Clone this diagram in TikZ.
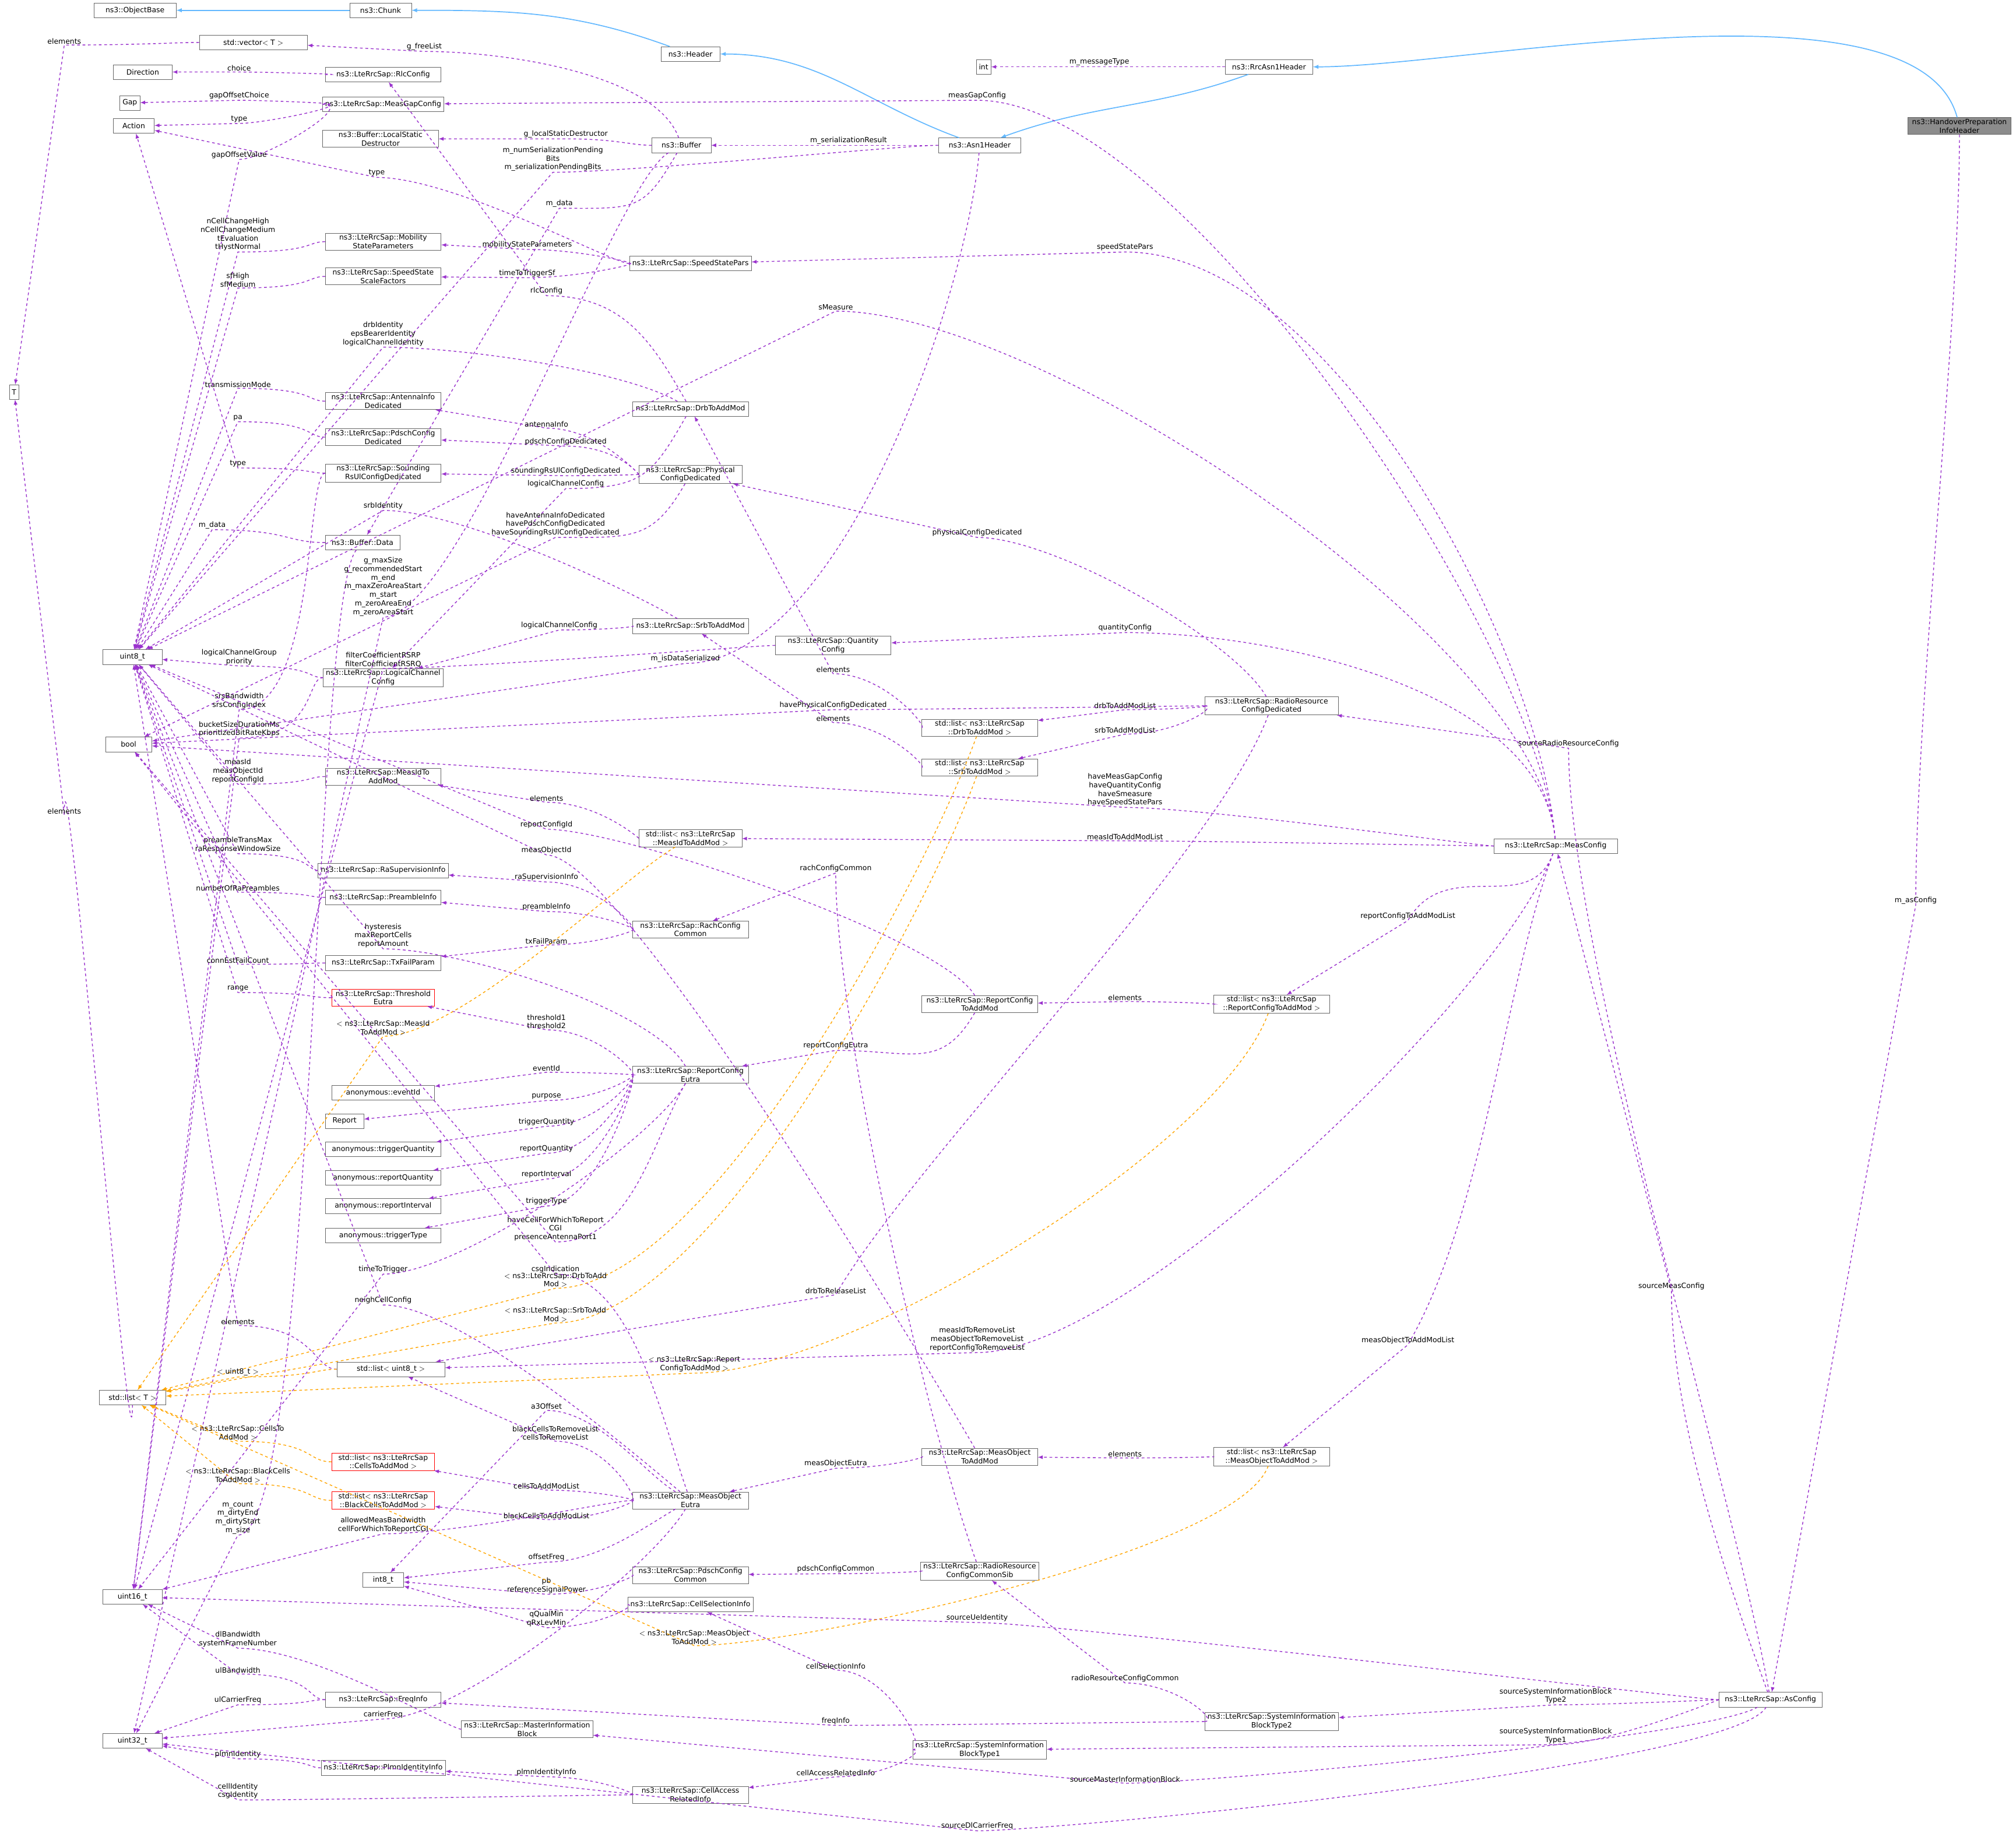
\documentclass[tikz,border=0pt]{standalone}
\usepackage{fontspec}
\setmainfont{DejaVu Sans}
\usetikzlibrary{calc}

\definecolor{memcol}{RGB}{154,50,205}
\definecolor{tplcol}{RGB}{255,165,0}
\definecolor{inhcol}{RGB}{99,184,255}

\tikzset{
  box/.style={draw=black!60,fill=white,align=center,inner xsep=3pt,inner ysep=1.5pt,minimum height=0.57cm,font=\fontsize{8}{9.5}\selectfont},
  colbox/.style={box,minimum width=4.5cm},
  typbox/.style={box,minimum width=2.3cm},
  redbox/.style={colbox,draw=red},
  grybox/.style={box,fill=black!45},
  member/.style={-latex,dashed,draw=memcol,line width=0.9pt},
  tmpl/.style={-latex,dashed,draw=tplcol,line width=0.9pt},
  inherit/.style={-latex,draw=inhcol,line width=1.1pt},
  lbl/.style={anchor=south,align=center,inner sep=1pt,font=\fontsize{8}{9.5}\selectfont},
  lout/.store in=\lkout, lin/.store in=\lkin, lreach/.store in=\lkreach,
  lout=180, lin=0, lreach=3cm
}
% container, member type, point on the line, label
\newcommand{\lnk}[5][]{
  \draw[member,#1] (#2) .. controls +(\lkout:\lkreach) and ($(#4)+(\lkin:\lkreach)$) .. (#4) -- (#3);
  \node[lbl] at (#4) {#5};
}

\begin{document}
\begin{tikzpicture}[x=0.05cm,y=-0.05cm]
\useasboundingbox (0,0) rectangle (1568,1434);

% base classes
\node[box,minimum width=3.2cm] (objbase) at (105,8) {ns3::ObjectBase};
\node[box,minimum width=2.4cm] (chunk) at (296,8) {ns3::Chunk};
\node[box,minimum width=2.3cm] (header) at (537,42) {ns3::Header};
\node[box,minimum width=3.2cm] (asn1) at (762,113) {ns3::Asn1Header};
\node[box,minimum width=3.4cm] (rrcasn1) at (987,52) {ns3::RrcAsn1Header};
\node[grybox,minimum width=4cm] (hopinfo) at (1524,98) {ns3::HandoverPreparation\\InfoHeader};

% plain types
\node[colbox,minimum width=4.2cm] (vectorT) at (197,33) {std::vector$<$ T $>$};
\node[box] (int) at (765,52) {int};
\node[typbox] (direction) at (111,56) {Direction};
\node[box] (gap) at (101,80) {Gap};
\node[box,minimum width=1.6cm] (action) at (104,98) {Action};
\node[box] (T) at (11,305) {T};
\node[typbox] (uint8) at (103,511) {uint8\_t};
\node[box,minimum width=1.8cm] (bool) at (100,579) {bool};
\node[box,minimum width=2.6cm] (listT) at (103,1087) {std::list$<$ T $>$};
\node[typbox] (uint16) at (103,1242) {uint16\_t};
\node[typbox] (uint32) at (103,1354) {uint32\_t};
\node[box,minimum width=1.6cm] (int8) at (298,1229) {int8\_t};

% second column
\node[colbox] (rlccfg) at (298,58) {ns3::LteRrcSap::RlcConfig};
\node[colbox] (measgap) at (298,81) {ns3::LteRrcSap::MeasGapConfig};
\node[colbox] (lsd) at (296,108) {ns3::Buffer::LocalStatic\\Destructor};
\node[colbox] (mobility) at (298,188) {ns3::LteRrcSap::Mobility\\StateParameters};
\node[colbox] (ssscale) at (298,215) {ns3::LteRrcSap::SpeedState\\ScaleFactors};
\node[colbox] (antenna) at (298,312) {ns3::LteRrcSap::AntennaInfo\\Dedicated};
\node[colbox] (pdschded) at (298,340) {ns3::LteRrcSap::PdschConfig\\Dedicated};
\node[colbox] (sounding) at (298,368) {ns3::LteRrcSap::Sounding\\RsUlConfigDedicated};
\node[box,minimum width=2.9cm] (bufdata) at (282,422) {ns3::Buffer::Data};
\node[colbox] (logch) at (298,527) {ns3::LteRrcSap::LogicalChannel\\Config};
\node[colbox] (measid) at (298,604) {ns3::LteRrcSap::MeasIdTo\\AddMod};
\node[colbox] (rasup) at (298,677) {ns3::LteRrcSap::RaSupervisionInfo};
\node[colbox] (preamble) at (298,698) {ns3::LteRrcSap::PreambleInfo};
\node[colbox] (txfail) at (298,749) {ns3::LteRrcSap::TxFailParam};
\node[redbox,minimum width=4cm] (thresh) at (298,776) {ns3::LteRrcSap::Threshold\\Eutra};
\node[colbox,minimum width=4cm] (evid) at (298,850) {anonymous::eventId};
\node[box,minimum width=1.5cm] (report) at (268,872) {Report};
\node[colbox] (trigq) at (298,894) {anonymous::triggerQuantity};
\node[colbox] (repq) at (298,916) {anonymous::reportQuantity};
\node[colbox] (repint) at (298,938) {anonymous::reportInterval};
\node[colbox] (trigt) at (298,961) {anonymous::triggerType};
\node[colbox,minimum width=4.2cm] (listu8) at (304,1065) {std::list$<$ uint8\_t $>$};
\node[redbox,minimum width=4cm] (listcells) at (298,1137) {std::list$<$ ns3::LteRrcSap\\::CellsToAddMod $>$};
\node[redbox,minimum width=4cm] (listblack) at (298,1167) {std::list$<$ ns3::LteRrcSap\\::BlackCellsToAddMod $>$};
\node[colbox] (freqinfo) at (298,1322) {ns3::LteRrcSap::FreqInfo};
\node[colbox,minimum width=5cm] (mib) at (410,1345) {ns3::LteRrcSap::MasterInformation\\Block};
\node[colbox] (plmn) at (298,1375) {ns3::LteRrcSap::PlmnIdentityInfo};

% third column
\node[box,minimum width=2.3cm] (buffer) at (530,113) {ns3::Buffer};
\node[colbox] (speed) at (537,205) {ns3::LteRrcSap::SpeedStatePars};
\node[colbox] (drb) at (537,318) {ns3::LteRrcSap::DrbToAddMod};
\node[box,minimum width=4cm] (phys) at (537,369) {ns3::LteRrcSap::Physical\\ConfigDedicated};
\node[colbox] (srb) at (537,487) {ns3::LteRrcSap::SrbToAddMod};
\node[colbox] (quant) at (648,502) {ns3::LteRrcSap::Quantity\\Config};
\node[box,minimum width=4cm] (listmeasid) at (537,652) {std::list$<$ ns3::LteRrcSap\\::MeasIdToAddMod $>$};
\node[colbox] (rach) at (537,723) {ns3::LteRrcSap::RachConfig\\Common};
\node[colbox] (repeutra) at (537,836) {ns3::LteRrcSap::ReportConfig\\Eutra};
\node[colbox] (moeutra) at (537,1167) {ns3::LteRrcSap::MeasObject\\Eutra};
\node[colbox] (pdschcom) at (537,1225) {ns3::LteRrcSap::PdschConfig\\Common};
\node[colbox] (cellsel) at (537,1248) {ns3::LteRrcSap::CellSelectionInfo};
\node[colbox] (cellacc) at (537,1396) {ns3::LteRrcSap::CellAccess\\RelatedInfo};

% fourth column
\node[colbox] (listdrb) at (762,566) {std::list$<$ ns3::LteRrcSap\\::DrbToAddMod $>$};
\node[colbox] (listsrb) at (762,597) {std::list$<$ ns3::LteRrcSap\\::SrbToAddMod $>$};
\node[colbox] (repadd) at (762,781) {ns3::LteRrcSap::ReportConfig\\ToAddMod};
\node[colbox] (moadd) at (762,1133) {ns3::LteRrcSap::MeasObject\\ToAddMod};
\node[colbox] (rrcsib) at (762,1222) {ns3::LteRrcSap::RadioResource\\ConfigCommonSib};
\node[colbox,minimum width=5.2cm] (sib1) at (762,1361) {ns3::LteRrcSap::SystemInformation\\BlockType1};

% fifth column
\node[colbox,minimum width=5.2cm] (rrcded) at (989,549) {ns3::LteRrcSap::RadioResource\\ConfigDedicated};
\node[colbox] (listrep) at (989,781) {std::list$<$ ns3::LteRrcSap\\::ReportConfigToAddMod $>$};
\node[colbox] (listmo) at (989,1133) {std::list$<$ ns3::LteRrcSap\\::MeasObjectToAddMod $>$};
\node[colbox,minimum width=5.2cm] (sib2) at (989,1339) {ns3::LteRrcSap::SystemInformation\\BlockType2};
\node[colbox,minimum width=4.8cm] (meascfg) at (1210,658) {ns3::LteRrcSap::MeasConfig};
\node[colbox,minimum width=4cm] (ascfg) at (1377,1322) {ns3::LteRrcSap::AsConfig};

% inheritance
\draw[inherit] (chunk) -- (objbase);
\draw[inherit] (header) to[out=160,in=0] (chunk);
\draw[inherit] (asn1) to[out=160,in=0] (header);
\draw[inherit] (rrcasn1) to[out=200,in=20] (asn1);
\draw[inherit] (hopinfo) to[out=105,in=0,looseness=0.6] (rrcasn1);

% members
\lnk{vectorT}{T}{50,35}{elements}
\lnk[lreach=1cm]{rlccfg}{direction}{186,56}{choice}
\lnk[lreach=1cm]{measgap}{gap}{186,78}{gapOffsetChoice}
\lnk[lreach=1cm]{measgap}{action}{186,96}{type}
\lnk[lreach=2cm]{buffer}{lsd}{440,108}{g\_localStaticDestructor}
\lnk[lout=110]{buffer}{vectorT}{330,40}{g\_freeList}
\lnk[lreach=2cm]{asn1}{buffer}{660,113}{m\_serializationResult}
\lnk[lreach=2cm]{rrcasn1}{int}{855,52}{m\_messageType}
\lnk[lout=95,lreach=8cm]{meascfg}{measgap}{760,78}{measGapConfig}
\lnk{asn1}{uint8}{430,134}{m\_numSerializationPending\\Bits\\m\_serializationPendingBits}
\lnk[lout=240]{buffer}{bufdata}{435,162}{m\_data}
\lnk{speed}{action}{293,138}{type}
\lnk[lreach=1cm]{measgap}{uint8}{186,124}{gapOffsetValue}
\lnk{mobility}{uint8}{185,196}{nCellChangeHigh\\nCellChangeMedium\\tEvaluation\\tHystNormal}
\lnk[lreach=2cm]{speed}{mobility}{410,194}{mobilityStateParameters}
\lnk[lreach=2cm]{speed}{ssscale}{410,216}{timeToTriggerSf}
\lnk{ssscale}{uint8}{185,224}{sfHigh\\sfMedium}
\lnk[lout=95,lreach=8cm]{meascfg}{speed}{875,196}{speedStatePars}
\lnk[lout=120]{drb}{rlccfg}{425,230}{rlcConfig}
\lnk[lout=95,lreach=8cm]{meascfg}{uint8}{650,242}{sMeasure}
\lnk[lout=150]{drb}{uint8}{298,270}{drbIdentity\\epsBearerIdentity\\logicalChannelIdentity}
\lnk{antenna}{uint8}{185,302}{transmissionMode}
\lnk[lreach=2cm]{phys}{antenna}{425,333}{antennaInfo}
\lnk{pdschded}{uint8}{185,328}{pa}
\lnk[lreach=2cm]{phys}{pdschded}{440,347}{pdschConfigDedicated}
\lnk[lreach=2cm]{phys}{sounding}{440,370}{soundingRsUlConfigDedicated}
\lnk[lout=240]{drb}{logch}{440,380}{logicalChannelConfig}
\lnk{sounding}{action}{185,364}{type}
\lnk[lout=150]{srb}{uint8}{298,397}{srbIdentity}
\lnk[lout=240]{phys}{bool}{432,418}{haveAntennaInfoDedicated\\havePdschConfigDedicated\\haveSoundingRsUlConfigDedicated}
\lnk{bufdata}{uint8}{165,412}{m\_data}
\lnk[lout=230]{bufdata}{uint32}{185,1194}{m\_count\\m\_dirtyEnd\\m\_dirtyStart\\m\_size}
\lnk[lout=210]{buffer}{uint32}{298,480}{g\_maxSize\\g\_recommendedStart\\m\_end\\m\_maxZeroAreaStart\\m\_start\\m\_zeroAreaEnd\\m\_zeroAreaStart}
\lnk[lreach=2cm]{srb}{logch}{435,490}{logicalChannelConfig}
\lnk{quant}{uint16}{298,520}{filterCoefficientRSRP\\filterCoefficientRSRQ}
\lnk[lout=265,lreach=6cm]{asn1}{bool}{533,516}{m\_isDataSerialized}
\lnk[lout=95,lreach=6cm]{meascfg}{quant}{875,492}{quantityConfig}
\lnk[lout=120]{rrcded}{phys}{760,418}{physicalConfigDedicated}
\lnk{logch}{uint8}{186,518}{logicalChannelGroup\\priority}
\lnk{logch}{uint16}{186,574}{bucketSizeDurationMs\\prioritizedBitRateKbps}
\lnk{sounding}{uint16}{186,552}{srsBandwidth\\srsConfigIndex}
\lnk[lreach=2cm]{listdrb}{drb}{648,524}{elements}
\lnk[lreach=2cm]{rrcded}{listdrb}{875,552}{drbToAddModList}
\lnk{rrcded}{bool}{648,552}{havePhysicalConfigDedicated}
\lnk[lreach=2cm]{rrcded}{listsrb}{875,571}{srbToAddModList}
\lnk[lreach=2cm]{listsrb}{srb}{648,562}{elements}
\lnk{measid}{uint8}{185,610}{measId\\measObjectId\\reportConfigId}
\lnk[lreach=2cm]{listmeasid}{measid}{425,624}{elements}
\lnk{meascfg}{bool}{875,628}{haveMeasGapConfig\\haveQuantityConfig\\haveSmeasure\\haveSpeedStatePars}
\lnk{meascfg}{listmeasid}{875,654}{measIdToAddModList}
\lnk[lout=120]{repadd}{uint8}{425,645}{reportConfigId}
\lnk[lout=120]{moadd}{uint8}{425,665}{measObjectId}
\lnk[lreach=2cm]{rach}{rasup}{425,686}{raSupervisionInfo}
\lnk{rasup}{uint8}{185,664}{preambleTransMax\\raResponseWindowSize}
\lnk{preamble}{uint8}{185,694}{numberOfRaPreambles}
\lnk[lreach=2cm]{rach}{preamble}{425,709}{preambleInfo}
\lnk[lout=120]{repeutra}{uint8}{298,738}{hysteresis\\maxReportCells\\reportAmount}
\lnk[lreach=2cm]{rach}{txfail}{425,735}{txFailParam}
\lnk{txfail}{uint8}{185,750}{connEstFailCount}
\lnk{thresh}{uint8}{185,772}{range}
\lnk[lout=250,lin=60]{meascfg}{listrep}{1095,716}{reportConfigToAddModList}
\lnk[lreach=2cm]{listrep}{repadd}{875,779}{elements}
\lnk[lout=240]{repadd}{repeutra}{650,817}{reportConfigEutra}
\lnk[lreach=2cm]{repeutra}{thresh}{425,801}{threshold1\\threshold2}
\lnk[lreach=2cm]{repeutra}{evid}{425,834}{eventId}
\lnk[lreach=2cm]{repeutra}{report}{425,856}{purpose}
\lnk[lreach=2cm]{repeutra}{trigq}{425,876}{triggerQuantity}
\lnk[lreach=2cm]{repeutra}{repq}{425,897}{reportQuantity}
\lnk[lreach=2cm]{repeutra}{repint}{425,917}{reportInterval}
\lnk[lreach=2cm]{repeutra}{trigt}{425,938}{triggerType}
\lnk[lout=240]{repeutra}{bool}{432,966}{haveCellForWhichToReport\\CGI\\presenceAntennaPort1}
\lnk[lout=110]{moeutra}{bool}{432,991}{csgIndication}
\lnk[lout=240]{repeutra}{uint16}{298,991}{timeToTrigger}
\lnk[lout=140]{moeutra}{uint8}{298,1015}{neighCellConfig}
\lnk[lout=250,lin=60,lreach=6cm]{rrcded}{listu8}{650,1007}{drbToReleaseList}
\lnk[lout=250,lreach=6cm]{meascfg}{listu8}{760,1052}{measIdToRemoveList\\measObjectToRemoveList\\reportConfigToRemoveList}
\lnk{listu8}{uint8}{185,1031}{elements}
\lnk[lreach=2cm]{moeutra}{listu8}{432,1121}{blackCellsToRemoveList\\cellsToRemoveList}
\lnk[lout=150,lreach=2cm]{moeutra}{int8}{425,1097}{a3Offset}
\lnk[lreach=2cm]{moeutra}{listcells}{425,1159}{cellsToAddModList}
\lnk[lreach=2cm]{moeutra}{listblack}{425,1182}{blackCellsToAddModList}
\lnk[lreach=2cm]{moadd}{moeutra}{650,1142}{measObjectEutra}
\lnk[lreach=2cm]{listmo}{moadd}{875,1134}{elements}
\lnk[lout=250,lin=60,lreach=6cm]{meascfg}{listmo}{1095,1046}{measObjectToAddModList}
\lnk{moeutra}{uint16}{298,1193}{allowedMeasBandwidth\\cellForWhichToReportCGI}
\lnk[lout=210,lreach=2cm]{moeutra}{int8}{425,1215}{offsetFreq}
\lnk[lout=240]{moeutra}{uint32}{298,1337}{carrierFreq}
\lnk[lreach=2cm]{pdschcom}{int8}{425,1240}{pb\\referenceSignalPower}
\lnk[lreach=2cm]{rrcsib}{pdschcom}{650,1224}{pdschConfigCommon}
\lnk[lout=110,lin=270,lreach=6cm]{rrcsib}{rach}{650,679}{rachConfigCommon}
\lnk[lreach=2cm]{cellsel}{int8}{425,1266}{qQualMin\\qRxLevMin}
\lnk[lreach=2cm]{sib1}{cellsel}{650,1299}{cellSelectionInfo}
\lnk[lreach=2cm]{sib2}{rrcsib}{875,1309}{radioResourceConfigCommon}
\lnk{sib2}{freqinfo}{650,1342}{freqInfo}
\lnk{freqinfo}{uint32}{185,1326}{ulCarrierFreq}
\lnk{freqinfo}{uint16}{185,1302}{ulBandwidth}
\lnk{mib}{uint16}{185,1282}{dlBandwidth\\systemFrameNumber}
\lnk[lreach=2cm]{sib1}{cellacc}{650,1382}{cellAccessRelatedInfo}
\lnk[lreach=2cm]{cellacc}{plmn}{425,1382}{plmnIdentityInfo}
\lnk{plmn}{uint32}{185,1368}{plmnIdentity}
\lnk{cellacc}{uint32}{185,1400}{cellIdentity\\csgIdentity}
\lnk{ascfg}{uint16}{760,1262}{sourceUeIdentity}
\lnk[lreach=2cm]{ascfg}{sib2}{1210,1326}{sourceSystemInformationBlock\\Type2}
\lnk[lreach=2cm]{ascfg}{sib1}{1210,1357}{sourceSystemInformationBlock\\Type1}
\lnk[lout=210]{ascfg}{mib}{875,1387}{sourceMasterInformationBlock}
\lnk[lout=240]{ascfg}{uint32}{760,1424}{sourceDlCarrierFreq}
\lnk[lout=110,lin=270,lreach=5cm]{ascfg}{meascfg}{1300,1004}{sourceMeasConfig}
\lnk[lout=100,lin=270,lreach=8cm]{ascfg}{rrcded}{1220,582}{sourceRadioResourceConfig}
\lnk[lout=270,lin=90,lreach=8cm]{hopinfo}{ascfg}{1490,704}{m\_asConfig}
\lnk[lout=270,lin=90,lreach=5cm]{listT}{T}{50,634}{elements}

% template instances
\lnk[tmpl,lout=210]{listmeasid}{listT}{298,806}{$<$ ns3::LteRrcSap::MeasId\\ToAddMod $>$}
\lnk[tmpl,lout=250,lreach=6cm]{listdrb}{listT}{432,1002}{$<$ ns3::LteRrcSap::DrbToAdd\\Mod $>$}
\lnk[tmpl,lout=250,lreach=6cm]{listsrb}{listT}{432,1029}{$<$ ns3::LteRrcSap::SrbToAdd\\Mod $>$}
\lnk[tmpl]{listu8}{listT}{185,1071}{$<$ uint8\_t $>$}
\lnk[tmpl,lout=250,lreach=6cm]{listrep}{listT}{540,1068}{$<$ ns3::LteRrcSap::Report\\ConfigToAddMod $>$}
\lnk[tmpl]{listcells}{listT}{185,1121}{$<$ ns3::LteRrcSap::CellsTo\\AddMod $>$}
\lnk[tmpl]{listblack}{listT}{185,1154}{$<$ ns3::LteRrcSap::BlackCells\\ToAddMod $>$}
\lnk[tmpl,lout=250,lreach=4cm]{listmo}{listT}{540,1280}{$<$ ns3::LteRrcSap::MeasObject\\ToAddMod $>$}

\end{tikzpicture}
\end{document}
